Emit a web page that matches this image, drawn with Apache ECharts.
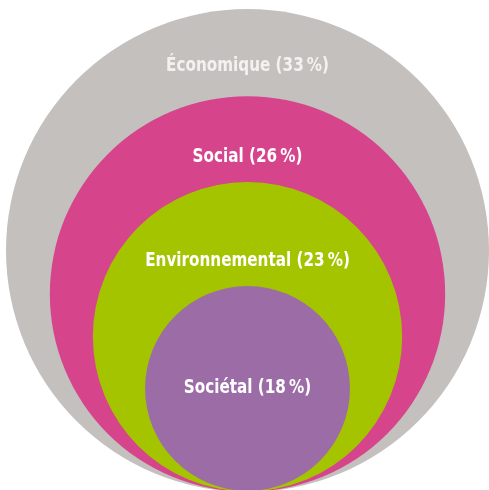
<!DOCTYPE html>
<html>
<head>
<meta charset="utf-8">
<script src="https://cdn.jsdelivr.net/npm/echarts@6/dist/echarts.min.js"></script>
<style>
  html, body { margin: 0; padding: 0; background: #ffffff; }
  #chart { width: 489px; height: 490px; }
</style>
</head>
<body>
<div id="chart"></div>
<script>
// Dimensions of responsibility, from outermost ring to innermost disc
const categories = ['Économique', 'Social', 'Environnemental', 'Sociétal'];
const shares = [33, 26, 23, 18];
const colors = ['#c4c0bd', '#d6448c', '#a5c400', '#9c6ca6'];

// Where each ring's label sits inside its band (0 = ring top, 1 = next ring top)
const labelBandFraction = [0.63, 0.69, 0.75];

// Each disc's area is the share of its own category plus all inner ones,
// so the outer disc (radius 1) holds 100 %.
function cumulativeShare(i) {
  let s = 0;
  for (let k = i; k < shares.length; k++) s += shares[k];
  return s;
}
function radiusOf(i) {
  return Math.sqrt(cumulativeShare(i) / 100);
}

const chart = echarts.init(document.getElementById('chart'), null, { renderer: 'canvas' });

chart.setOption({
  animation: false,
  grid: { left: 6, top: 11, width: 486, height: 486 },
  xAxis: { type: 'value', min: -1, max: 1, show: false },
  yAxis: { type: 'value', min: -1, max: 1, show: false },
  series: [{
    type: 'custom',
    coordinateSystem: 'cartesian2d',
    data: categories.map((c, i) => [i, shares[i]]),
    renderItem: function (params, api) {
      const i = api.value(0);
      const r = radiusOf(i);
      const cy = -1 + r; // every disc touches the same bottom point
      const center = api.coord([0, cy]);
      const rp = api.size([r, r])[0];

      let labelY;
      if (i < categories.length - 1) {
        const top = -1 + 2 * r;
        const nextTop = -1 + 2 * radiusOf(i + 1);
        labelY = top + labelBandFraction[i] * (nextTop - top);
      } else {
        labelY = cy;
      }
      const labelPt = api.coord([0, labelY]);

      return {
        type: 'group',
        children: [
          {
            type: 'circle',
            shape: { cx: center[0], cy: center[1], r: rp },
            style: { fill: colors[i] }
          },
          {
            type: 'text',
            z2: 10,
            x: labelPt[0],
            y: labelPt[1],
            scaleX: 0.89,
            style: {
              text: categories[i] + ' (' + shares[i] + '\u202F%)',
              fill: i === 0 ? '#f4f2f0' : '#ffffff',
              font: 'bold 19px "DejaVu Sans Condensed", "Liberation Sans Narrow", sans-serif',
              align: 'center',
              verticalAlign: 'middle'
            }
          }
        ]
      };
    }
  }]
});
</script>
</body>
</html>
